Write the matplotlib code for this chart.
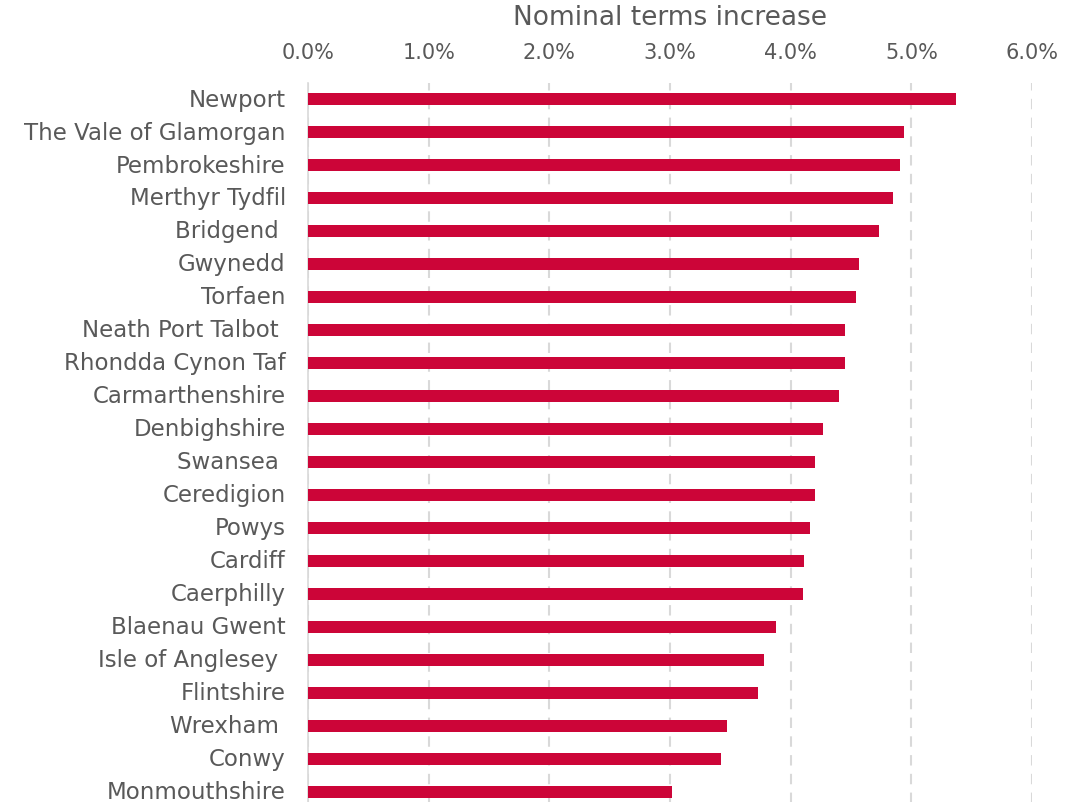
import matplotlib.pyplot as plt
from matplotlib.ticker import PercentFormatter

# values (nominal terms increase, %)
areas = [
    "Newport", "The Vale of Glamorgan", "Pembrokeshire", "Merthyr Tydfil",
    "Bridgend ", "Gwynedd", "Torfaen", "Neath Port Talbot ",
    "Rhondda Cynon Taf", "Carmarthenshire", "Denbighshire", "Swansea ",
    "Ceredigion", "Powys", "Cardiff", "Caerphilly", "Blaenau Gwent",
    "Isle of Anglesey ", "Flintshire", "Wrexham ", "Conwy", "Monmouthshire",
]
increase = [
    5.37, 4.94, 4.91, 4.85, 4.73, 4.57, 4.54, 4.45, 4.45, 4.40, 4.27,
    4.20, 4.20, 4.16, 4.11, 4.10, 3.88, 3.78, 3.73, 3.47, 3.42, 3.02,
]
xticks = [0, 1, 2, 3, 4, 5, 6]

plt.rcParams['font.family'] = ['DejaVu Sans']
text_col = '#595959'

fig = plt.figure(figsize=(10.72, 8.03), dpi=100)
ax = fig.add_axes([0.2873, -0.0080, 0.6754, 0.904])

ypos = list(range(len(areas)))
ax.barh(ypos, increase, height=0.37, color='#CC0538', zorder=3)
ax.set_ylim(len(areas) - 0.5, -0.5)
ax.set_yticks(ypos)
ax.set_yticklabels(areas, fontsize=16.5, color=text_col, va='center')

ax.set_xlim(0, 6)
ax.set_xticks(xticks)
ax.xaxis.set_major_formatter(PercentFormatter(decimals=1))
ax.xaxis.tick_top()
ax.xaxis.set_label_position('top')
ax.set_xlabel('Nominal terms increase', fontsize=19, color=text_col, labelpad=13)
ax.tick_params(axis='x', labelsize=15, colors=text_col, length=0, pad=15)
ax.tick_params(axis='y', length=0, pad=16)

ax.grid(axis='x', color='#d9d9d9', linestyle=(0, (5, 4)), linewidth=1.5, zorder=0)
for s in ['top', 'right', 'bottom']:
    ax.spines[s].set_visible(False)
ax.spines['left'].set_color('#d9d9d9')
ax.spines['left'].set_linewidth(1.2)

fig.savefig('out.png', dpi=100)
